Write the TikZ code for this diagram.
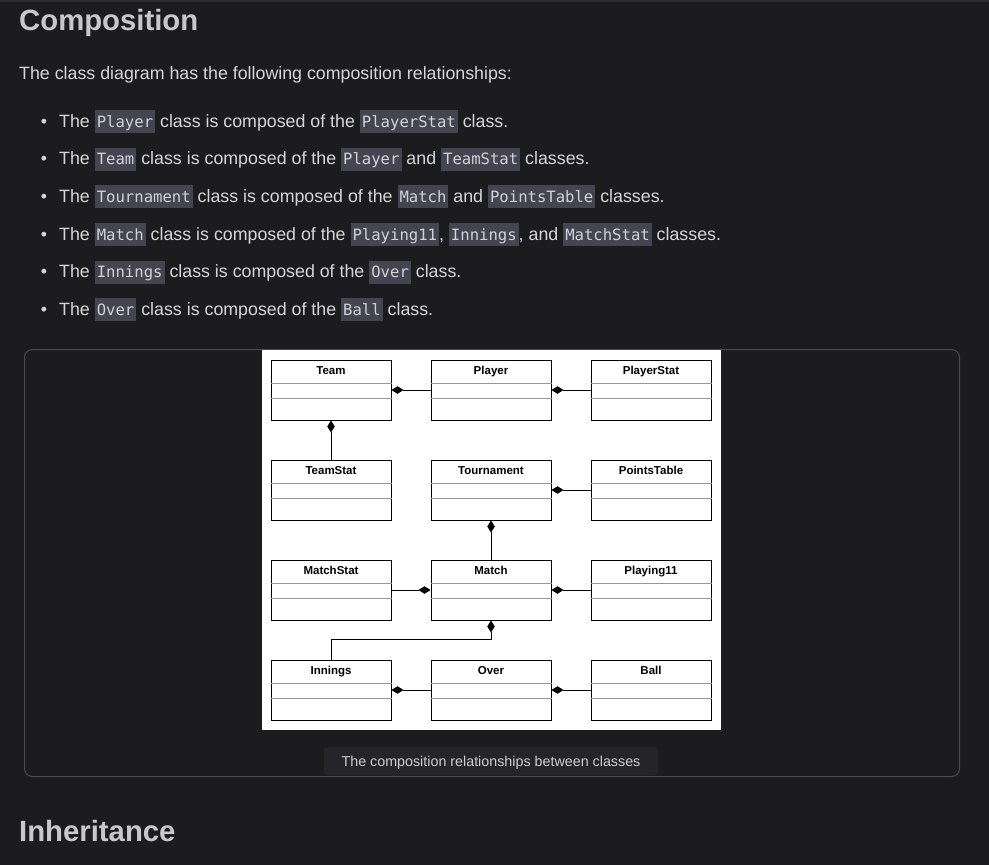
\documentclass[tikz,border=0pt]{standalone}
\usepackage{fontspec}
\setmainfont{Liberation Sans}
\newfontfamily\codefam{DejaVu Sans Mono}
\usetikzlibrary{arrows.meta}
\definecolor{pagebg}{RGB}{28,28,30}
\definecolor{toprule}{RGB}{44,44,48}
\definecolor{headtext}{RGB}{200,200,204}
\definecolor{bodytext}{RGB}{214,214,218}
\definecolor{codebg}{RGB}{68,69,80}
\definecolor{codetext}{RGB}{210,210,218}
\definecolor{framec}{RGB}{74,74,80}
\definecolor{capbg}{RGB}{37,37,41}
\definecolor{captext}{RGB}{205,205,210}
\definecolor{sepgray}{RGB}{150,150,150}
\newcommand\code[1]{\begingroup\setlength\fboxsep{0pt}\colorbox{codebg}{\rule[-6pt]{0pt}{23pt}\kern2pt{\codefam\fontsize{15.6}{18}\selectfont\color{codetext}#1}\kern2pt}\endgroup}
\tikzset{
  heading/.style={anchor=base west,inner sep=0pt,text=headtext,font=\fontsize{29.3}{34}\selectfont\bfseries},
  bodyline/.style={anchor=base west,inner sep=0pt,text=bodytext,font=\fontsize{17.8}{21}\selectfont},
  bulletdot/.style={anchor=base,inner sep=0pt,text=bodytext,font=\fontsize{17.7}{21}\selectfont},
  classbox/.style={draw=black,line width=1pt,fill=white,minimum width=120pt,minimum height=60pt,inner sep=0pt},
  classtitle/.style={inner sep=0pt,font=\fontsize{11.5}{13}\selectfont\bfseries,text=black},
  comp/.style={draw=black,line width=1pt,-{Diamond[length=12pt,width=7.5pt]}},
}
\newcommand\umlclass[4]{%
  \node[classbox] (#1) at (#2,#3) {};
  \node[classtitle,anchor=base] (#1t) at ([yshift=-15pt]#1.north) {#4};
  \draw[sepgray,line width=1pt] ([yshift=-24pt]#1.north west) -- ([yshift=-24pt]#1.north east);
  \draw[sepgray,line width=1pt] ([yshift=-39pt]#1.north west) -- ([yshift=-39pt]#1.north east);
}
\begin{document}
\begin{tikzpicture}[x=1pt,y=-1pt]
\useasboundingbox (0,0) rectangle (989,865);
\fill[pagebg] (0,0) rectangle (989,865);
\fill[toprule] (0,0) rectangle (989,1.5);

\node[heading] (h1) at (19,30.5) {Composition};
\node[bodyline] (intro) at (19,79) {The class diagram has the following composition relationships:};

\node[bulletdot] (b1) at (44,127) {•};
\node[bodyline] (l1) at (59,127) {The \code{Player} class is composed of the \code{PlayerStat} class.};
\node[bulletdot] (b2) at (44,164.5) {•};
\node[bodyline] (l2) at (59,164.5) {The \code{Team} class is composed of the \code{Player} and \code{TeamStat} classes.};
\node[bulletdot] (b3) at (44,202) {•};
\node[bodyline] (l3) at (59,202) {The \code{Tournament} class is composed of the \code{Match} and \code{PointsTable} classes.};
\node[bulletdot] (b4) at (44,240) {•};
\node[bodyline] (l4) at (59,240) {The \code{Match} class is composed of the \code{Playing11}, \code{Innings}, and \code{MatchStat} classes.};
\node[bulletdot] (b5) at (44,277.5) {•};
\node[bodyline] (l5) at (59,277.5) {The \code{Innings} class is composed of the \code{Over} class.};
\node[bulletdot] (b6) at (44,315) {•};
\node[bodyline] (l6) at (59,315) {The \code{Over} class is composed of the \code{Ball} class.};

% figure frame
\draw[framec,line width=1pt,fill=pagebg,rounded corners=8pt] (24.5,349.5) rectangle (959.5,776.5);
\fill[white] (262,350) rectangle (721,730);

\umlclass{team}{331}{390}{Team}
\umlclass{player}{491}{390}{Player}
\umlclass{playerstat}{651}{390}{PlayerStat}
\umlclass{teamstat}{331}{490}{TeamStat}
\umlclass{tournament}{491}{490}{Tournament}
\umlclass{pointstable}{651}{490}{PointsTable}
\umlclass{matchstat}{331}{590}{MatchStat}
\umlclass{match}{491}{590}{Match}
\umlclass{playing}{651}{590}{Playing11}
\umlclass{innings}{331}{690}{Innings}
\umlclass{over}{491}{690}{Over}
\umlclass{ball}{651}{690}{Ball}

\draw[comp] (player.west) -- (team.east);
\draw[comp] (playerstat.west) -- (player.east);
\draw[comp] (teamstat.north) -- (team.south);
\draw[comp] (pointstable.west) -- (tournament.east);
\draw[comp] (match.north) -- (tournament.south);
\draw[comp] (matchstat.east) -- (match.west);
\draw[comp] (playing.west) -- (match.east);
\draw[comp] (innings.north) -- ++(0,-20) -| (match.south);
\draw[comp] (over.west) -- (innings.east);
\draw[comp] (ball.west) -- (over.east);

% caption
\fill[capbg,rounded corners=4pt] (324,747) rectangle (658,775.5);
\node[anchor=base,inner sep=0pt,text=captext,font=\fontsize{14.3}{16}\selectfont] (cap) at (491,766.5) {The composition relationships between classes};

\node[heading] (h2) at (19,841) {Inheritance};
\end{tikzpicture}
\end{document}
